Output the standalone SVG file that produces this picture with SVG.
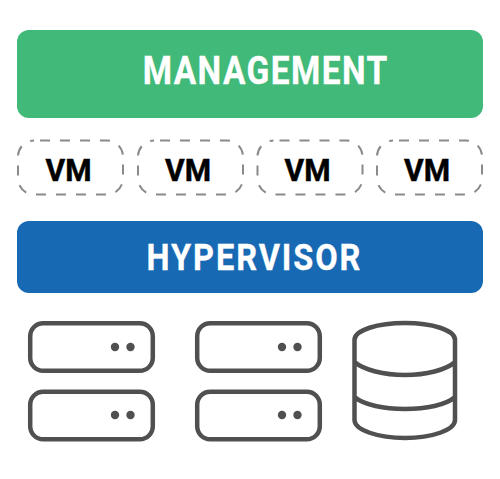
<svg xmlns="http://www.w3.org/2000/svg" width="500" height="479" viewBox="0 0 500 479">
<style>
.t{font-family:"Roboto","Liberation Sans",sans-serif;font-weight:700;text-anchor:middle}
.w{fill:#fff;stroke:#fff;stroke-width:.3}
.vm{fill:#fff;stroke:#8a8a8a;stroke-width:2;stroke-dasharray:10 10;stroke-dashoffset:-6}
.k{fill:#000;stroke:#000;stroke-width:.5;font-size:32px}
.s{fill:none;stroke:#505050;stroke-width:4.5}
.d{fill:#505050}
</style>
<rect width="500" height="479" fill="#fff"/>
<g id="management"><rect x="17" y="30" width="466" height="88" rx="12" fill="#41b979"/><text class="t w" font-size="38" transform="translate(265 83.500) scale(.88 1)" textLength="278" lengthAdjust="spacing">MANAGEMENT</text></g>
<g id="vm1"><rect class="vm" x="18" y="140.500" width="105" height="54" rx="16"/><text class="t k" x="68.500" y="180.500" textLength="46" lengthAdjust="spacingAndGlyphs">VM</text></g>
<g id="vm2"><rect class="vm" x="138" y="140.500" width="105" height="54" rx="16"/><text class="t k" x="188" y="180.500" textLength="46" lengthAdjust="spacingAndGlyphs">VM</text></g>
<g id="vm3"><rect class="vm" x="257.500" y="140.500" width="105" height="54" rx="16"/><text class="t k" x="307.500" y="180.500" textLength="46" lengthAdjust="spacingAndGlyphs">VM</text></g>
<g id="vm4"><rect class="vm" x="377" y="140.500" width="105" height="54" rx="16"/><text class="t k" x="427" y="180.500" textLength="46" lengthAdjust="spacingAndGlyphs">VM</text></g>
<g id="hypervisor"><rect x="17" y="221" width="466" height="72" rx="12" fill="#1769b4"/><text class="t w" font-size="37" transform="translate(253.500 270) scale(.88 1)" textLength="243" lengthAdjust="spacing">HYPERVISOR</text></g>
<g id="server1"><rect class="s" x="30.200" y="323.200" width="122.600" height="47.600" rx="13"/><circle class="d" cx="115" cy="347" r="4.200"/><circle class="d" cx="130.500" cy="347" r="4.200"/></g>
<g id="server2"><rect class="s" x="30.200" y="391.700" width="122.600" height="47.600" rx="13"/><circle class="d" cx="115" cy="415" r="4.200"/><circle class="d" cx="130.500" cy="415" r="4.200"/></g>
<g id="server3"><rect class="s" x="197.200" y="323.200" width="122.600" height="47.600" rx="13"/><circle class="d" cx="282" cy="347" r="4.200"/><circle class="d" cx="297.500" cy="347" r="4.200"/></g>
<g id="server4"><rect class="s" x="197.200" y="391.700" width="122.600" height="47.600" rx="13"/><circle class="d" cx="282" cy="415" r="4.200"/><circle class="d" cx="297.500" cy="415" r="4.200"/></g>
<g id="database"><path class="s" d="M354.500 340C354.500 330 378 323 405 323S455 330 455 340V420C455 430 432 438 405 438S354.500 430 354.500 420ZM354.500 362C364 370 384 375 405 375S446 370 455 362M354.500 397C364 405 384 409 405 409S446 405 455 397"/></g>
<g id="connectors"/>
</svg>
